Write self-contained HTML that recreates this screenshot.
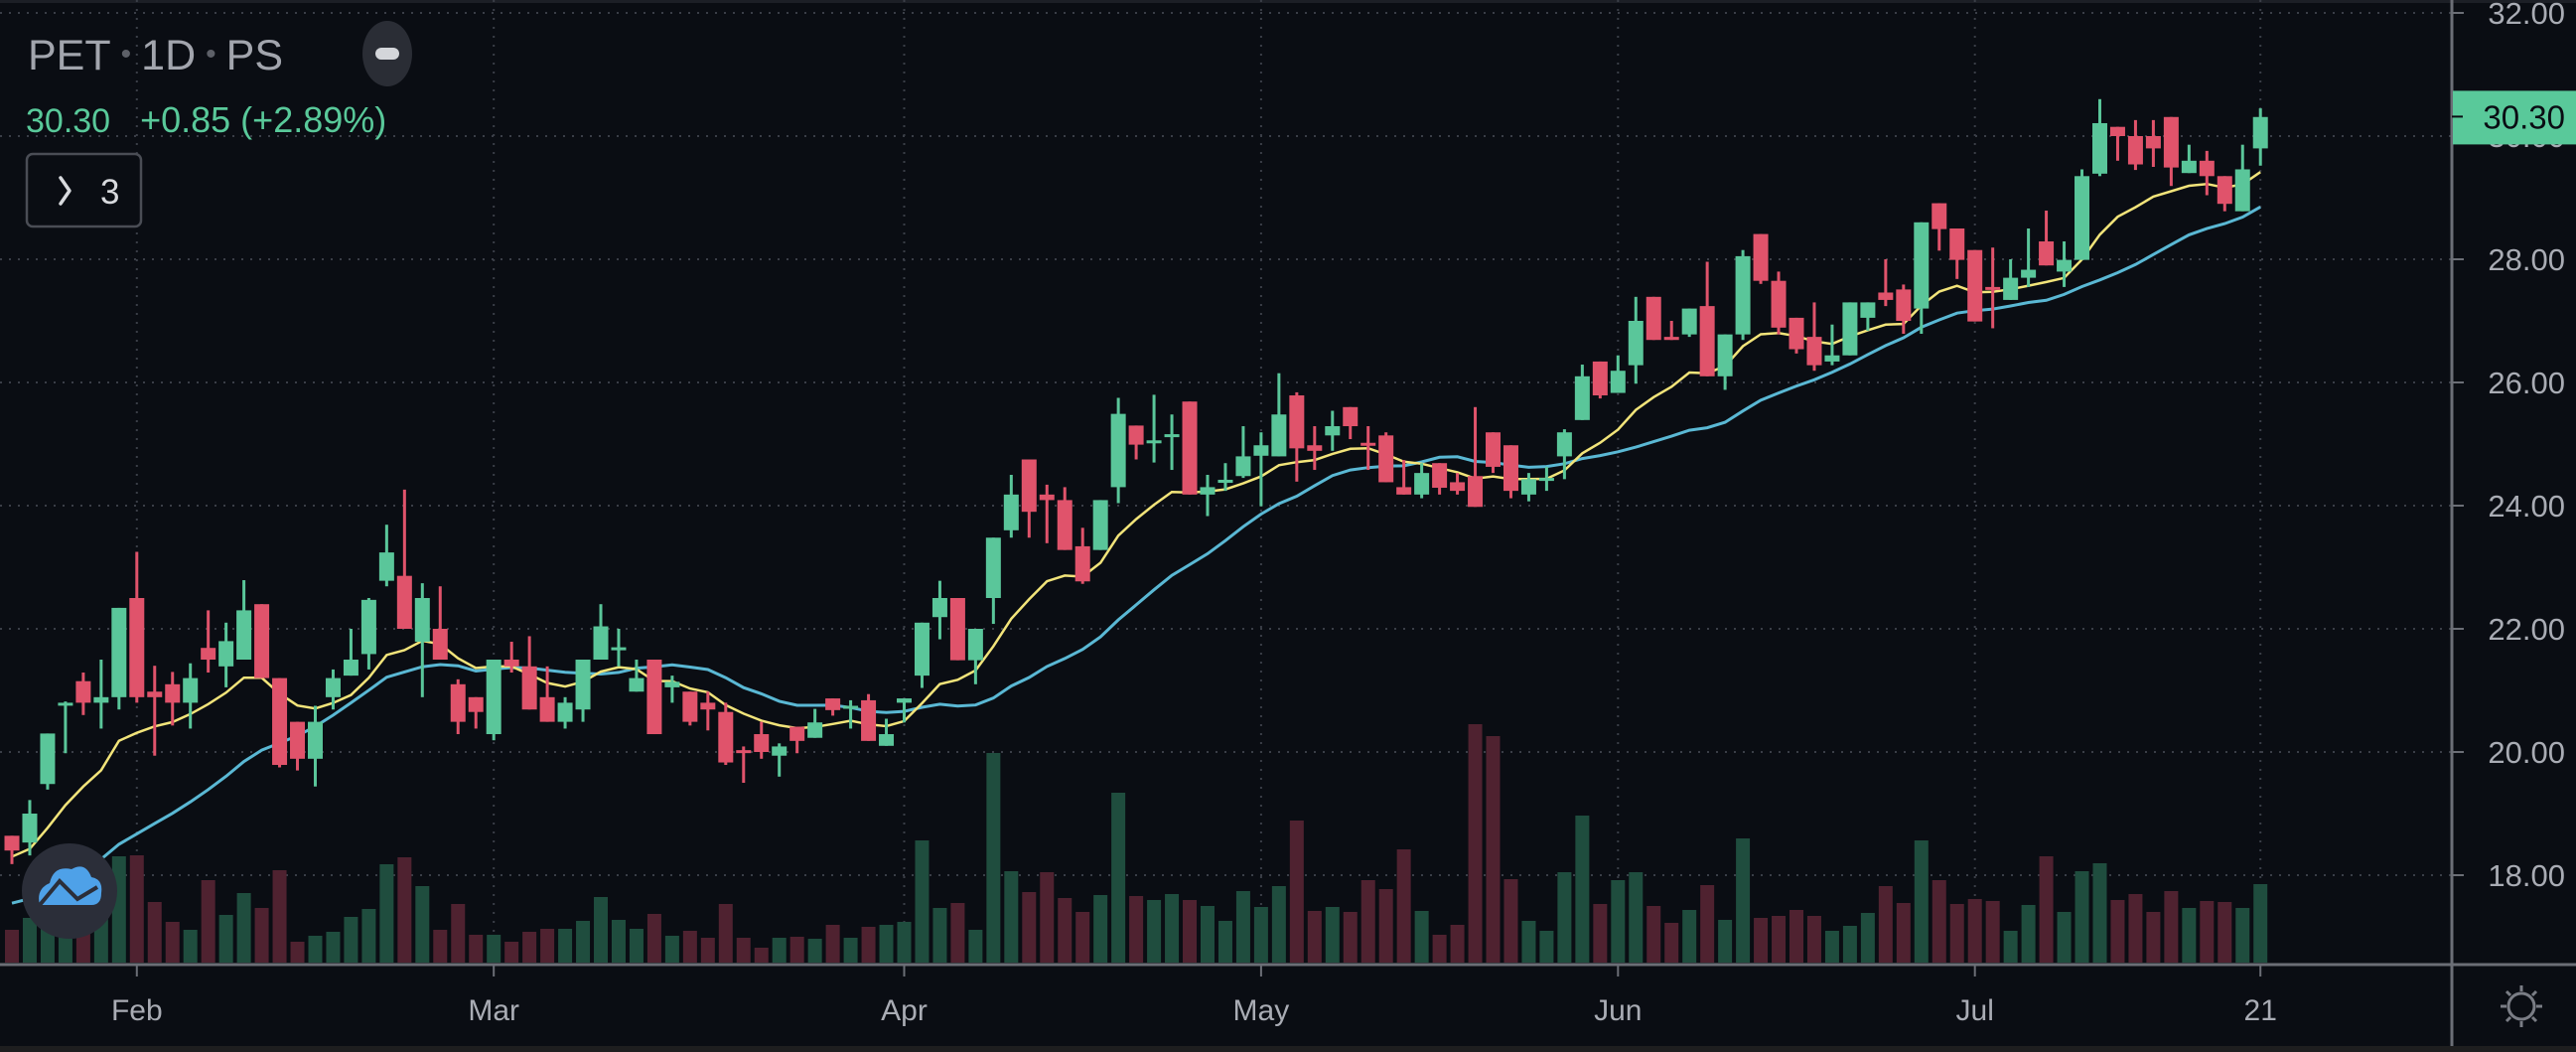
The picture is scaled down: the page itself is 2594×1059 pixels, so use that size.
<!DOCTYPE html>
<html>
<head>
<meta charset="utf-8">
<style>
html,body{margin:0;padding:0;background:#0a0d13;}
body{width:2594px;height:1059px;overflow:hidden;position:relative;font-family:"Liberation Sans","DejaVu Sans",sans-serif;}
svg{position:absolute;left:0;top:0;}
</style>
</head>
<body>
<svg id="chart" width="2594" height="1059" viewBox="0 0 2594 1059" xmlns="http://www.w3.org/2000/svg">
  <rect x="0" y="0" width="2594" height="1059" fill="#0a0d13"/>
  <rect x="0" y="0" width="2594" height="3" fill="#1c1f26"/>
  <rect x="0" y="1053" width="2594" height="6" fill="#1e1e1f"/>
  <g id="grid"></g>
  <g id="volume"></g>
  <g id="mas"></g>
  <g id="candles"></g>
  <g id="axes"></g>
</svg>

<script>
// ---- data: [open, high, low, close] per trading day ----
const opens  = [18.64,18.53,19.48,20.78,21.15,20.8,20.89,22.5,20.98,21.1,20.8,21.69,21.39,21.5,22.4,21.2,20.49,19.89,20.89,21.24,21.59,22.78,22.86,21.79,22.0,21.1,20.89,20.29,21.5,21.39,20.89,20.49,20.69,21.5,21.66,20.98,21.5,21.05,20.98,20.8,20.65,20.03,20.29,19.94,20.41,20.23,20.87,20.72,20.84,20.1,20.8,21.24,22.19,22.5,21.49,22.5,23.6,24.75,24.18,24.09,23.34,23.28,24.3,25.3,25.02,25.12,25.69,24.18,24.37,24.48,24.81,24.8,25.79,24.98,25.14,25.6,25.02,25.14,24.3,24.18,24.69,24.38,24.48,25.19,24.98,24.18,24.41,24.8,25.39,26.34,25.83,26.28,27.39,26.74,26.78,27.24,26.1,26.78,28.41,27.65,27.05,26.74,26.34,26.44,27.05,27.46,27.51,27.2,28.91,28.5,28.15,27.55,27.34,27.7,28.29,27.8,27.99,29.39,30.15,30.0,30.0,30.31,29.4,29.6,29.35,28.78,29.8];
const highs  = [18.64,19.22,20.3,20.82,21.29,21.5,22.34,23.25,21.4,21.3,21.44,22.3,22.1,22.79,22.4,21.2,20.49,20.75,21.34,22.0,22.5,23.69,24.26,22.74,22.69,21.18,20.89,21.5,21.79,21.88,21.39,20.89,21.5,22.4,22.0,21.5,21.5,21.24,20.98,20.98,20.8,20.09,20.49,20.14,20.41,20.7,20.87,20.84,20.94,20.54,20.87,22.1,22.78,22.5,22.0,23.48,24.5,24.75,24.34,24.3,23.64,24.09,25.75,25.3,25.8,25.48,25.69,24.5,24.69,25.29,25.19,26.15,25.84,25.29,25.54,25.6,25.29,25.19,24.74,24.69,24.69,24.53,25.6,25.19,24.98,24.53,24.63,25.24,26.29,26.34,26.44,27.39,27.39,27.0,27.2,27.96,26.78,28.15,28.41,27.8,27.05,27.3,26.94,27.3,27.3,28.0,27.59,28.6,28.91,28.5,28.15,28.19,28.0,28.5,28.79,28.29,29.46,30.6,30.15,30.26,30.26,30.31,29.86,29.76,29.35,29.86,30.45];
const lows   = [18.18,18.32,19.39,19.98,20.6,20.38,20.69,20.8,19.94,20.43,20.38,21.29,21.05,21.5,21.2,19.75,19.7,19.44,20.69,21.24,21.34,22.69,22.0,20.89,21.5,20.29,20.38,20.19,21.29,20.69,20.49,20.38,20.49,21.5,21.39,20.98,20.29,20.8,20.43,20.35,19.79,19.5,19.89,19.6,19.98,20.23,20.59,20.38,20.18,20.1,20.48,21.04,21.83,21.49,21.1,22.08,23.48,23.48,23.39,23.28,22.73,23.28,24.04,24.75,24.7,24.58,24.18,23.83,24.24,24.45,23.99,24.8,24.39,24.58,24.89,25.08,24.58,24.38,24.18,24.12,24.18,24.18,23.98,24.53,24.12,24.07,24.24,24.43,25.39,25.74,25.83,25.98,26.69,26.69,26.74,26.1,25.88,26.69,27.6,26.78,26.47,26.19,26.28,26.44,26.84,27.24,26.79,26.79,28.14,27.68,26.99,26.88,27.34,27.55,27.9,27.55,27.99,29.35,29.6,29.45,29.5,29.19,29.4,29.04,28.78,28.78,29.52];
const closes = [18.40,19.0,20.3,20.8,20.8,20.89,22.34,20.89,20.89,20.8,21.2,21.5,21.8,22.3,21.2,19.79,19.89,20.49,21.2,21.5,22.47,23.24,22.0,22.5,21.5,20.49,20.65,21.5,21.39,20.69,20.49,20.8,21.5,22.04,21.7,21.2,20.29,21.14,20.49,20.69,19.83,20.0,20.0,20.09,20.18,20.48,20.68,20.75,20.18,20.29,20.87,22.1,22.5,21.49,22.0,23.48,24.18,23.9,24.09,23.28,22.77,24.09,25.49,24.99,25.06,25.16,24.18,24.3,24.42,24.8,24.98,25.48,24.93,24.89,25.29,25.29,24.98,24.38,24.18,24.53,24.29,24.24,23.98,24.63,24.24,24.43,24.45,25.19,26.1,25.79,26.19,27.0,26.69,26.69,27.2,26.1,26.78,28.05,27.65,26.89,26.54,26.28,26.44,27.3,27.3,27.34,27.0,28.6,28.49,27.99,26.99,27.51,27.7,27.83,27.9,27.99,29.35,30.21,30.0,29.54,29.8,29.49,29.6,29.35,28.9,29.46,30.31];
const volumes = [33,45,40,38,50,60,107,108,61,41,33,83,48,70,55,93,21,27,31,46,54,99,106,77,33,59,28,28,21,31,34,34,42,66,43,34,49,27,32,25,59,25,15,25,26,24,38,25,36,38,41,123,55,60,33,211,92,71,91,65,51,68,171,67,63,69,63,57,42,72,56,77,143,52,56,51,83,74,114,52,28,38,240,228,84,42,32,91,148,59,83,91,57,40,53,78,43,125,45,47,53,47,32,37,50,77,60,123,83,59,64,62,32,58,107,51,92,100,63,69,51,72,55,62,61,55,79];
const priceTicks = [18,20,22,24,26,28,30,32];
const monthLabels = ["Feb","Mar","Apr","May","Jun","Jul","21"];
const monthIndex  = [7,27,50,70,90,110,126];
const lastPrice = 30.30;

// ---- scales ----
const X0 = 12, STEP = 17.97;
function xScale(i){ return X0 + i*STEP; }
function yScale(p){ return 13 + (32 - p)*62; }
const VOL_BASE = 969;
function vScale(v){ return VOL_BASE - v*1.0; }

const NS = "http://www.w3.org/2000/svg";
function mk(tag, attrs, parent){
  const e = document.createElementNS(NS, tag);
  for (const k in attrs) e.setAttribute(k, attrs[k]);
  parent.appendChild(e);
  return e;
}
const UP = "#5ac69a", DN = "#e0536b", VUP = "#1f4d3e", VDN = "#4f2230";
const AX_X = 2469, AX_Y = 971;

// grid
const grid = document.getElementById("grid");
priceTicks.forEach(p => {
  const l = mk("line", {x1:0, x2:AX_X, y1:yScale(p), y2:yScale(p), stroke:"#3a3e47", "stroke-width":2, "stroke-dasharray":"2 7"}, grid);
  
  
});
monthIndex.forEach(i => {
  const l = mk("line", {x1:xScale(i), x2:xScale(i), y1:0, y2:AX_Y, stroke:"#3a3e47", "stroke-width":2, "stroke-dasharray":"2 7"}, grid);
  
  
});

// volume
const vg = document.getElementById("volume");
volumes.forEach((v, i) => {
  const up = closes[i] >= opens[i];
  const r = mk("rect", {x:xScale(i)-7, y:vScale(v), width:14, height:VOL_BASE - vScale(v), fill: up ? VUP : VDN}, vg);
  
  
});

// moving averages
const mg = document.getElementById("mas");
const ema = []; let e = 18.2; const k = 2/11;
closes.forEach((c, i) => { e = i === 0 ? 18.3 : c*k + e*(1-k); ema.push(e); });
const sma = [];
closes.forEach((c, i) => {
  let s = 0;
  for (let j = i-19; j <= i; j++) s += (j >= 0 ? closes[j] : 17.5);
  sma.push(s/20);
});
function pathOf(arr){ return arr.map((v,i)=>(i?"L":"M")+xScale(i).toFixed(1)+" "+yScale(v).toFixed(1)).join(" "); }
const pb = mk("path", {d:pathOf(sma), fill:"none", stroke:"#5ab8d4", "stroke-width":3}, mg);


const py = mk("path", {d:pathOf(ema), fill:"none", stroke:"#f2e47a", "stroke-width":2.5}, mg);



// candles
const cg = document.getElementById("candles");
opens.forEach((o, i) => {
  const c = closes[i], up = c >= o, col = up ? UP : DN;
  const g = mk("g", {}, cg);
  
  
  const x = xScale(i);
  mk("rect", {x:x-1.5, y:yScale(highs[i]), width:3, height:Math.max(1, yScale(lows[i])-yScale(highs[i])), fill:col}, g);
  const top = yScale(Math.max(o,c)), bot = yScale(Math.min(o,c));
  mk("rect", {x:x-7.5, y:top, width:15, height:Math.max(3, bot-top), fill:col}, g);
});

// axes
const ax = document.getElementById("axes");
const al = mk("line", {x1:AX_X, x2:AX_X, y1:0, y2:1053, stroke:"#6b6e76", "stroke-width":3}, ax);


const bl = mk("line", {x1:0, x2:2594, y1:AX_Y, y2:AX_Y, stroke:"#6b6e76", "stroke-width":3}, ax);


priceTicks.forEach(p => {
  mk("line", {x1:AX_X, x2:AX_X+12, y1:yScale(p), y2:yScale(p), stroke:"#6b6e76", "stroke-width":2}, ax);
  const t = mk("text", {x:2583, y:yScale(p)+11, "text-anchor":"end", fill:"#a9acb4", "font-size":31}, ax);
  t.textContent = p.toFixed(2);
  
  
});
monthIndex.forEach((i, n) => {
  mk("line", {x1:xScale(i), x2:xScale(i), y1:AX_Y, y2:AX_Y+12, stroke:"#6b6e76", "stroke-width":2}, ax);
  const t = mk("text", {x:xScale(i), y:1027, "text-anchor":"middle", fill:"#a9acb4", "font-size":30}, ax);
  t.textContent = monthLabels[n];
  
  
});
// last price label
const lp = mk("g", {}, ax);


const ly = yScale(lastPrice);
mk("rect", {x:AX_X+1, y:ly-27, width:2594-AX_X, height:54, fill:"#59c99a"}, lp);
mk("line", {x1:AX_X, x2:AX_X+11, y1:ly-1, y2:ly-1, stroke:"#0a0d13", "stroke-width":2}, lp);
const lt = mk("text", {x:2583, y:ly+11, "text-anchor":"end", fill:"#0a0d13", "font-size":33}, lp);
lt.textContent = lastPrice.toFixed(2);
</script>

<!-- header overlay -->
<svg width="2594" height="1059" viewBox="0 0 2594 1059" style="pointer-events:none">
  <text x="28" y="70" fill="#a2a5ad" font-size="43">PET<tspan fill="#5d6068" font-size="30" dx="10" dy="-6">•</tspan><tspan dx="10" dy="6">1D</tspan><tspan fill="#5d6068" font-size="30" dx="10" dy="-6">•</tspan><tspan dx="10" dy="6">PS</tspan></text>
  <g style="pointer-events:auto">
    <ellipse cx="390" cy="54" rx="25" ry="33" fill="#2a2d35"/>
    <rect x="378" y="48" width="24" height="12" rx="6" fill="#d4d6da"/>
  </g>
  <text x="26" y="133" fill="#59c99a" font-size="34">30.30<tspan dx="30" font-size="36">+0.85 (+2.89%)</tspan></text>
  <g style="pointer-events:auto">
    <rect x="27" y="155" width="115" height="73" rx="6" fill="#0a0d13" stroke="#4a4d55" stroke-width="2.5"/>
    <polyline points="61,179 70,192 61,205" fill="none" stroke="#d8dade" stroke-width="3.5" stroke-linecap="round" stroke-linejoin="round"/>
    <text x="101" y="205" fill="#d8dade" font-size="35">3</text>
  </g>
  <g style="pointer-events:auto">
    <ellipse cx="70" cy="897" rx="48" ry="48" fill="#2b2e39"/>
    <path d="M40 911 Q36 895 50 889 Q54 871 72 875 Q86 867 92 883 Q104 885 102 899 Q102 911 92 911 Z" fill="#4ea1e8"/>
    <polyline points="40,911 60,887 78,905 98,893" fill="none" stroke="#2b2e39" stroke-width="4"/>
  </g>
  <g style="pointer-events:auto" stroke="#7a7d85" stroke-width="3" fill="none">
    <circle cx="2539" cy="1013" r="13"/>
    <line x1="2539" y1="992" x2="2539" y2="998"/><line x1="2539" y1="1028" x2="2539" y2="1034"/>
    <line x1="2518" y1="1013" x2="2524" y2="1013"/><line x1="2554" y1="1013" x2="2560" y2="1013"/>
    <line x1="2524" y1="998" x2="2528" y2="1002"/><line x1="2550" y1="1024" x2="2554" y2="1028"/>
    <line x1="2554" y1="998" x2="2550" y2="1002"/><line x1="2528" y1="1024" x2="2524" y2="1028"/>
  </g>
</svg>
</body>
</html>
